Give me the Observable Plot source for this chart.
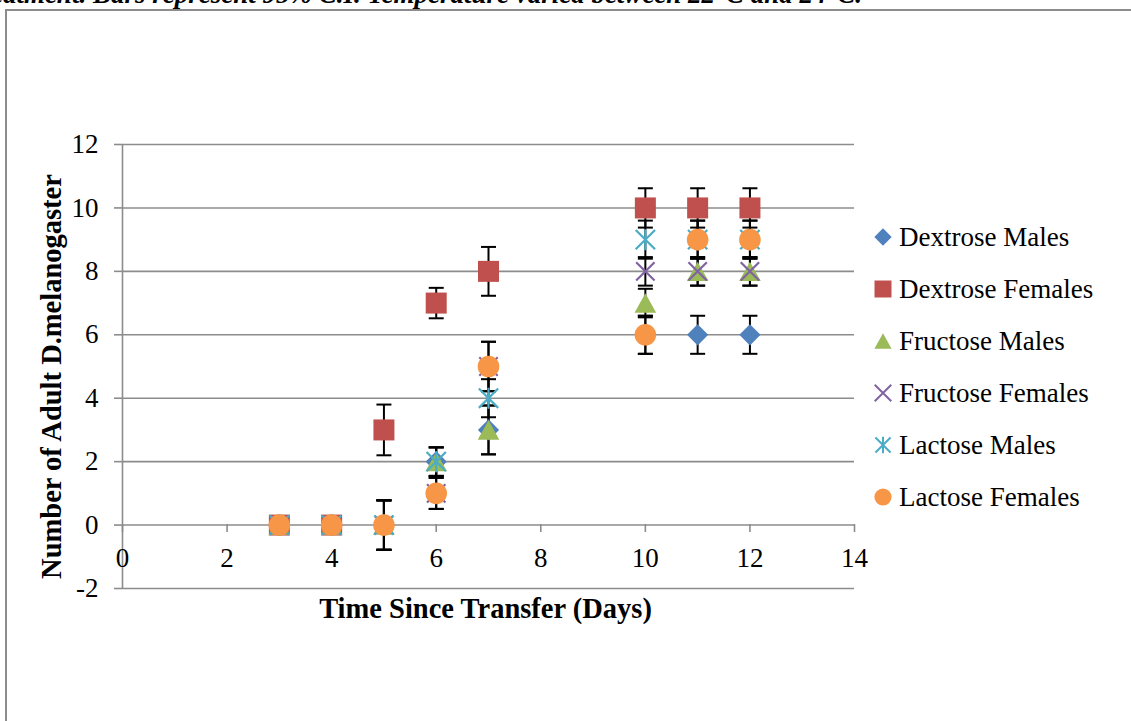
<!DOCTYPE html>
<html><head><meta charset="utf-8">
<script src="https://cdn.jsdelivr.net/npm/d3@7"></script>
<script src="https://cdn.jsdelivr.net/npm/@observablehq/plot@0.6"></script>
<style>
html,body{margin:0;padding:0;background:#fff;}
body{width:1131px;height:721px;position:relative;overflow:hidden;font-family:"Liberation Serif",serif;}
#caption{position:absolute;right:269px;top:-19px;white-space:nowrap;font:italic bold 27px/27px "Liberation Serif",serif;color:#000;}
#frame{position:absolute;left:5px;top:9px;width:1200px;height:800px;border:2px solid #8c8c8c;box-sizing:border-box;}
#chart{position:absolute;left:0;top:0;}
#legend{position:absolute;left:874px;top:211px;font:27px/52px "Liberation Serif",serif;color:#000;}
.row{display:flex;align-items:center;height:52px;white-space:nowrap}
.row svg{margin-right:7px;display:block}
</style></head><body>
<div id="caption">treatment. Bars represent 95% C.I. Temperature varied between 22°C and 24°C.</div>
<div id="frame"></div>
<div id="chart"></div>
<div id="legend"></div>
<script>
// ---- data ----
const days = [3, 4, 5, 6, 7, 10, 11, 12];
const seriesNames = ["Dextrose Males", "Dextrose Females", "Fructose Males", "Fructose Females", "Lactose Males", "Lactose Females"];
const seriesColors = ["#4F81BD", "#C0504D", "#9BBB59", "#8064A2", "#4BACC6", "#F79646"];

const dextroseMales     = [0, 0, 0, 2, 3, 6, 6, 6];
const dextroseFemales   = [0, 0, 3, 7, 8, 10, 10, 10];
const fructoseMales     = [0, 0, 0, 2, 3, 7, 8, 8];
const fructoseFemales   = [0, 0, 0, 1, 5, 8, 8, 8];
const lactoseMales      = [0, 0, 0, 2, 4, 9, 9, 9];
const lactoseFemales    = [0, 0, 0, 1, 5, 6, 9, 9];

const dextroseMalesCI   = [0, 0, 0.78, 0.45, 0.77, 0.6, 0.6, 0.6];
const dextroseFemalesCI = [0, 0, 0.8, 0.48, 0.77, 0.62, 0.62, 0.62];
const fructoseMalesCI   = [0, 0, 0.78, 0.45, 0.77, 0.45, 0.45, 0.45];
const fructoseFemalesCI = [0, 0, 0.78, 0.49, 0.78, 0.45, 0.45, 0.45];
const lactoseMalesCI    = [0, 0, 0.78, 0.45, 0.6, 0.6, 0.6, 0.6];
const lactoseFemalesCI  = [0, 0, 0.78, 0.49, 0.78, 0.6, 0.6, 0.6];

const xTicks = [0, 2, 4, 6, 8, 10, 12, 14];
const yTicks = [-2, 0, 2, 4, 6, 8, 10, 12];
const xTitle = "Time Since Transfer (Days)";
const yTitle = "Number of Adult D.melanogaster";

// ---- table ----
const values = [dextroseMales, dextroseFemales, fructoseMales, fructoseFemales, lactoseMales, lactoseFemales];
const cis = [dextroseMalesCI, dextroseFemalesCI, fructoseMalesCI, fructoseFemalesCI, lactoseMalesCI, lactoseFemalesCI];
const rows = [];
values.forEach((vals, s) => vals.forEach((v, i) => rows.push({s, series: seriesNames[s], day: days[i], value: v, ci: cis[s][i]})));
const barRows = rows.filter(d => d.ci > 0);
const capRows = barRows.flatMap(d => [{day: d.day, y: d.value - d.ci}, {day: d.day, y: d.value + d.ci}]);

// ---- symbols ----
const rOf = size => Math.sqrt(size / Math.PI);
const capSym = {draw(c, size) { const r = rOf(size); c.moveTo(-r, 0); c.lineTo(r, 0); }};
const diamondSym = {draw(c, size) { const r = rOf(size); c.moveTo(0, -r); c.lineTo(r, 0); c.lineTo(0, r); c.lineTo(-r, 0); c.closePath(); }};
const squareSym = {draw(c, size) { const r = rOf(size); c.rect(-r, -r, 2 * r, 2 * r); }};
const triSym = {draw(c, size) { const r = rOf(size); c.moveTo(0, -0.9 * r); c.lineTo(r, 0.9 * r); c.lineTo(-r, 0.9 * r); c.closePath(); }};
const timesSym = {draw(c, size) { const r = rOf(size); c.moveTo(-r, -r); c.lineTo(r, r); c.moveTo(-r, r); c.lineTo(r, -r); }};
const starSym = {draw(c, size) { const r = rOf(size); const a = r * 0.92; c.moveTo(-a, -a); c.lineTo(a, a); c.moveTo(-a, a); c.lineTo(a, -a); c.moveTo(0, -r); c.lineTo(0, r); }};
const circleSym = {draw(c, size) { const r = rOf(size); c.moveTo(r, 0); c.arc(0, 0, r, 0, 2 * Math.PI); }};
const symbols = [diamondSym, squareSym, triSym, timesSym, starSym, circleSym];
const isStroke = [false, false, false, true, true, false];
const plotSizes = [10.6, 10.5, 10.8, 9.2, 10.5, 10.8];
const legendSizes = [8.7, 8.5, 8.6, 8.3, 8.2, 8.6];

const markerMarks = symbols.map((sym, s) => Plot.dot(rows.filter(d => d.s === s), {
  x: "day", y: "value", symbol: sym, r: plotSizes[s],
  fill: isStroke[s] ? "none" : seriesColors[s],
  stroke: isStroke[s] ? seriesColors[s] : "none",
  strokeWidth: 2.2
}));

const fmt = d => String(d);

const chart = Plot.plot({
  width: 1131, height: 721,
  marginLeft: 122, marginRight: 277, marginTop: 144, marginBottom: 133,
  x: {domain: [0, 14]},
  y: {domain: [-2, 12]},
  style: {fontFamily: "Liberation Serif", fontSize: "27px", background: "transparent", overflow: "visible", color: "black"},
  marks: [
    Plot.gridY(yTicks, {stroke: "#8c8c8c", strokeOpacity: 1, strokeWidth: 1.6}),
    Plot.ruleX([0], {stroke: "#8c8c8c", strokeWidth: 1.6}),
    Plot.axisY(yTicks, {tickSize: 8, tickPadding: 16, stroke: "#8c8c8c", strokeWidth: 1.6, fill: "black", fontSize: 27, tickFormat: fmt, label: null}),
    Plot.axisX(xTicks, {anchor: "bottom", tickSize: 8, tickPadding: 15, dy: -64, stroke: "#8c8c8c", strokeWidth: 1.6, fill: "black", fontSize: 27, tickFormat: fmt, label: null}),
    Plot.ruleX(barRows, {x: "day", y1: d => d.value - d.ci, y2: d => d.value + d.ci, stroke: "black", strokeWidth: 2}),
    Plot.dot(capRows, {x: "day", y: "y", symbol: capSym, r: 7.5, stroke: "black", fill: "none", strokeWidth: 2}),
    ...markerMarks,
    Plot.text([xTitle], {frameAnchor: "bottom", text: d => d, dy: 29, dx: -3, fontWeight: "bold", fontSize: 28.5, fill: "black"}),
    Plot.text([yTitle], {frameAnchor: "left", textAnchor: "middle", text: d => d, rotate: -90, dx: -71, dy: 10, fontWeight: "bold", fontSize: 28.5, fill: "black"})
  ]
});
document.getElementById("chart").appendChild(chart);

// ---- legend ----
const legend = d3.select("#legend");
seriesNames.forEach((name, s) => {
  const row = legend.append("div").attr("class", "row");
  const svg = row.append("svg").attr("width", 18).attr("height", 52);
  const r = legendSizes[s];
  svg.append("path")
    .attr("transform", "translate(9,26)")
    .attr("d", d3.symbol(symbols[s], Math.PI * r * r)())
    .attr("fill", isStroke[s] ? "none" : seriesColors[s])
    .attr("stroke", isStroke[s] ? seriesColors[s] : "none")
    .attr("stroke-width", 2);
  row.append("span").text(name);
});
</script>
</body></html>
